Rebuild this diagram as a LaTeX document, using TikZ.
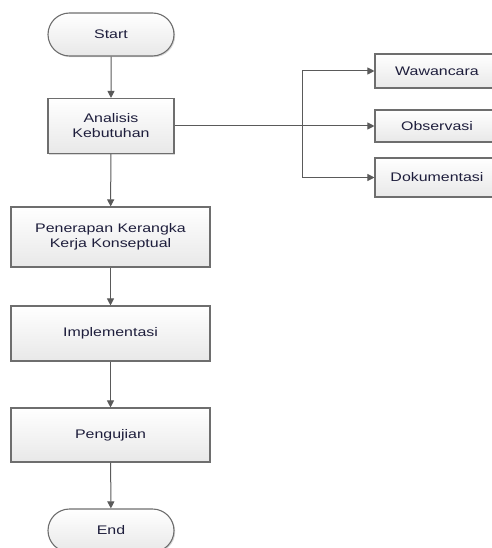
\documentclass[tikz,border=0pt]{standalone}
\usepackage{fontspec}
\setmainfont{Liberation Sans}[FakeStretch=1.28]
\usetikzlibrary{arrows.meta,shapes.misc,shadows}
\definecolor{edgegray}{HTML}{6E6E6E}
\definecolor{linegray}{HTML}{5A5A5A}
\definecolor{txt}{HTML}{1E1E3C}
\tikzset{
  base/.style={draw=edgegray, line width=1.1bp, top color=white, bottom color=black!9,
    text=txt, font=\fontsize{12.5}{15}\selectfont, align=center, inner sep=0pt,
    drop shadow={shadow xshift=1.2bp, shadow yshift=-1.2bp, fill=black!25, opacity=0.6}},
  procbox/.style={base, rectangle, minimum width=#1},
  term/.style={base, rounded rectangle, minimum width=126bp, minimum height=43bp},
  conn/.style={draw=linegray, line width=1bp, -{Triangle[length=7bp,width=7bp]}},
  plainline/.style={draw=linegray, line width=1bp}
}
\begin{document}
\begin{tikzpicture}[x=1bp,y=-1bp]
\useasboundingbox (0,0) rectangle (492,548);
\clip (0,0) rectangle (492,548);
\node[term] (start) at (111,34.5) {Start};
\node[procbox=126bp, minimum height=55bp] (analisis) at (111,126) {Analisis\\Kebutuhan};
\node[procbox=199bp, minimum height=60bp] (penerapan) at (110.5,237) {Penerapan Kerangka\\Kerja Konseptual};
\node[procbox=199bp, minimum height=55bp] (impl) at (110.5,333.5) {Implementasi};
\node[procbox=199bp, minimum height=54bp] (uji) at (110.5,435) {Pengujian};
\node[term] (end) at (111,530.5) {End};
\node[procbox=124bp, minimum height=34bp] (waw) at (437,71) {Wawancara};
\node[procbox=124bp, minimum height=32bp] (obs) at (437,126) {Observasi};
\node[procbox=124bp, minimum height=39bp] (dok) at (437,177.5) {Dokumentasi};
\coordinate (branch) at (302,126);
\draw[conn] (start) -- (analisis);
\draw[conn] (analisis) -- (penerapan);
\draw[conn] (penerapan) -- (impl);
\draw[conn] (impl) -- (uji);
\draw[conn] (uji) -- (end);
\draw[conn] (analisis.east) -- (obs.west);
\draw[conn] (branch) |- (waw.west);
\draw[conn] (branch) |- (dok.west);
\end{tikzpicture}
\end{document}
